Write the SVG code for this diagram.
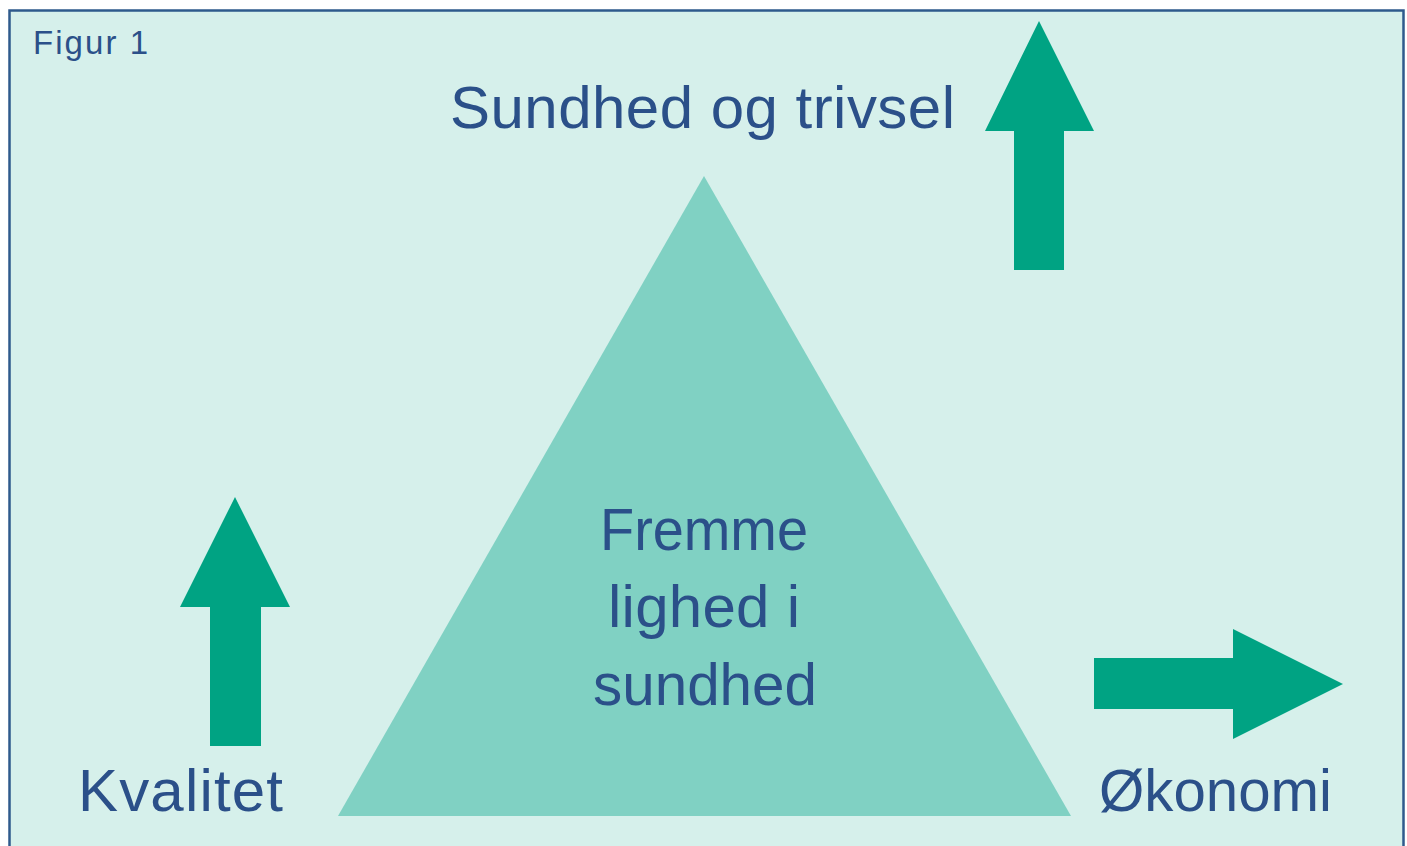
<svg xmlns="http://www.w3.org/2000/svg" width="1407" height="846" viewBox="0 0 1407 846">
<style>
.lbl{font-family:"Liberation Sans",Arial,sans-serif;fill:#2b5089;font-size:60px}
.arrow{fill:#00a383}
</style>
<rect x="0" y="0" width="1407" height="846" fill="#ffffff"/>
<rect id="frame" x="9.5" y="10.5" width="1394" height="845" fill="#d6f0eb" stroke="#2e5a8c" stroke-width="2.5"/>
<text id="figur" x="33" y="54" class="lbl" style="font-size:33px" textLength="115" lengthAdjust="spacing">Figur 1</text>
<g id="triangle">
<polygon points="704,176 338,816 1071,816" fill="#80d1c3"/>
<text class="lbl" x="600" y="550" textLength="208" lengthAdjust="spacingAndGlyphs">Fremme</text>
<text class="lbl" x="608" y="627" textLength="192" lengthAdjust="spacing">lighed i</text>
<text class="lbl" x="593" y="705" textLength="224" lengthAdjust="spacingAndGlyphs">sundhed</text>
</g>
<g id="sundhed">
<text class="lbl" x="450" y="128" textLength="505" lengthAdjust="spacing">Sundhed og trivsel</text>
</g>
<g id="kvalitet">
<text class="lbl" x="78" y="811" textLength="205" lengthAdjust="spacing">Kvalitet</text>
</g>
<g id="okonomi">
<text class="lbl" x="1099" y="811" textLength="233" lengthAdjust="spacingAndGlyphs">Økonomi</text>
</g>
<g id="connectors">
<polygon class="arrow" points="1039,21 1094,131 1064,131 1064,270 1014,270 1014,131 985,131"/>
<polygon class="arrow" points="235,497 290,607 261,607 261,746 210,746 210,607 180,607"/>
<polygon class="arrow" points="1343,684 1233,739 1233,709 1094,709 1094,658 1233,658 1233,629"/>
</g>
</svg>
